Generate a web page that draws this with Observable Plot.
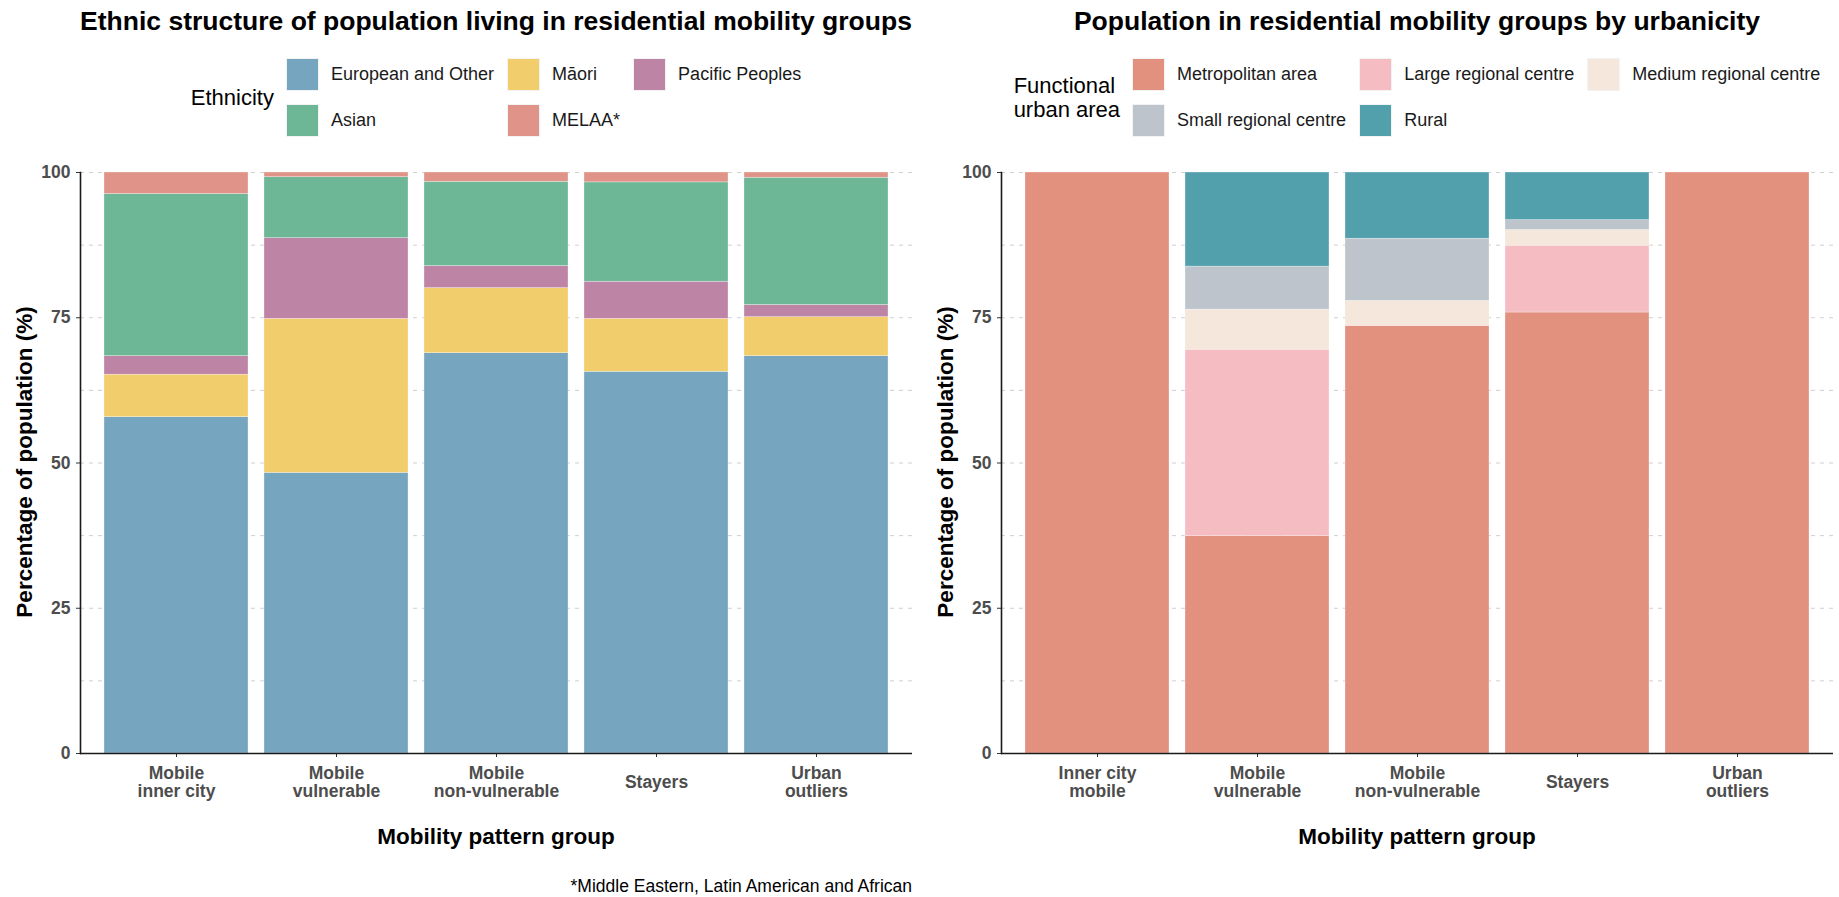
<!DOCTYPE html>
<html>
<head>
<meta charset="utf-8">
<script src="https://cdn.jsdelivr.net/npm/d3@7"></script>
<script src="https://cdn.jsdelivr.net/npm/@observablehq/plot@0.6"></script>
<style>
  html, body { margin: 0; padding: 0; background: #fff; }
  body { width: 1839px; height: 897px; position: relative; overflow: hidden; font-family: "Liberation Sans", Arial, sans-serif; color: #000; }
  .abs { position: absolute; }
  .title { font-weight: bold; font-size: 26.5px; line-height: 30px; text-align: center; white-space: nowrap; }
  .axtitle { font-weight: bold; font-size: 22.5px; line-height: 26px; text-align: center; white-space: nowrap; }
  .ytitle { font-weight: bold; font-size: 22.5px; line-height: 26px; white-space: nowrap; transform: translate(-50%, -50%) rotate(-90deg); }
  .caption { font-size: 17.5px; line-height: 20px; text-align: right; white-space: nowrap; }
  .legwrap { display: flex; justify-content: center; }
  .legend { display: flex; align-items: center; }
  .legtitle { font-size: 22px; line-height: 24px; margin-right: 12px; white-space: nowrap; }
  .leggrid { display: grid; grid-auto-flow: column; grid-template-rows: 33px 33px; row-gap: 13px; column-gap: 13px; align-items: center; }
  .item { display: flex; align-items: center; font-size: 18px; white-space: nowrap; color: #1a1a1a; }
  .key { width: 31px; height: 31px; border: 1px solid #f3f3f3; margin-right: 12px; }
  svg { overflow: visible; }
</style>
</head>
<body>
<script>
// ---------- data ----------
const ethGroups = ["Mobile\ninner city", "Mobile\nvulnerable", "Mobile\nnon-vulnerable", "Stayers", "Urban\noutliers"];
const ethnicities = ["European and Other", "Māori", "Pacific Peoples", "Asian", "MELAA*"];
const ethColors = ["#76A5BF", "#F2CD6B", "#BE84A6", "#6DB696", "#E09388"];
const european = [57.9, 48.3, 68.9, 65.7, 68.4];
const maori    = [7.3, 26.5, 11.2, 9.1, 6.7];
const pacific  = [3.2, 13.9, 3.8, 6.4, 2.1];
const asian    = [27.9, 10.5, 14.5, 17.1, 21.9];
const melaa    = [3.7, 0.8, 1.6, 1.7, 0.9];
// legend order (column-major, 2 rows)
const ethLegendOrder = ["European and Other", "Asian", "Māori", "MELAA*", "Pacific Peoples"];

const urbGroups = ["Inner city\nmobile", "Mobile\nvulnerable", "Mobile\nnon-vulnerable", "Stayers", "Urban\noutliers"];
const urbanAreas = ["Metropolitan area", "Large regional centre", "Medium regional centre", "Small regional centre", "Rural"];
const urbColors = ["#E3917F", "#F5BCC2", "#F5E7DB", "#BDC4CB", "#53A0AD"];
const metro  = [100, 37.4, 73.6, 75.9, 100];
const large  = [0, 32.1, 0, 11.5, 0];
const medium = [0, 6.9, 4.3, 2.7, 0];
const small  = [0, 7.4, 10.7, 1.7, 0];
const rural  = [0, 16.2, 11.4, 8.2, 0];
const urbLegendOrder = ["Metropolitan area", "Small regional centre", "Large regional centre", "Rural", "Medium regional centre"];

const yTicks = [0, 25, 50, 75, 100];
const yGrid = [0, 12.5, 25, 37.5, 50, 62.5, 75, 87.5, 100];

// ---------- build tables ----------
function rowsOf(groups, cats, series) {
  const out = [];
  cats.forEach((c, i) => groups.forEach((g, j) => { if (series[i][j] > 0) out.push({group: g, cat: c, value: series[i][j]}); }));
  return out;
}
const ethRows = rowsOf(ethGroups, ethnicities, [european, maori, pacific, asian, melaa]);
const urbRows = rowsOf(urbGroups, urbanAreas, [metro, large, medium, small, rural]);

function panel(rows, groups, cats, colors, width, mLeft, mRight) {
  return Plot.plot({
    width, height: 897,
    marginLeft: mLeft, marginRight: mRight, marginTop: 172, marginBottom: 144,
    style: {fontFamily: "Liberation Sans, Arial, sans-serif", background: "transparent", overflow: "visible"},
    x: {domain: groups, paddingInner: 0.1, paddingOuter: 0.15, label: null},
    y: {domain: [0, 100], label: null},
    color: {domain: cats, range: colors},
    marks: [
      Plot.gridY(yGrid, {stroke: "#cfcfcf", strokeOpacity: 1, strokeWidth: 1, strokeDasharray: "4,5"}),
      Plot.barY(rows, {x: "group", y: "value", fill: "cat", order: cats, stroke: "white", strokeWidth: 0.6, strokeOpacity: 0.5, inset: 0}),
      Plot.axisY({ticks: yTicks, tickSize: 4, tickPadding: 6, fontSize: 17.5, fontWeight: "bold", fill: "#4D4D4D", stroke: "#333", label: null}),
      Plot.axisX({tickSize: 4, tickPadding: 24.5, fontSize: 17.5, fontWeight: "bold", fill: "#4D4D4D", stroke: "#333", lineAnchor: "middle", lineHeight: 1.02, label: null}),
      Plot.frame({anchor: "left", stroke: "#1a1a1a", strokeWidth: 1.6}),
      Plot.ruleY([0], {stroke: "#1a1a1a", strokeWidth: 1.6})
    ]
  });
}

function place(el, left, top) {
  el.style.position = "absolute";
  el.style.left = left + "px";
  el.style.top = top + "px";
  document.body.appendChild(el);
  return el;
}

place(panel(ethRows, ethGroups, ethnicities, ethColors, 920, 80, 8), 0, 0);
place(panel(urbRows, urbGroups, urbanAreas, urbColors, 919, 81, 6), 920, 0);

function div(cls, html, css) {
  const d = document.createElement("div");
  d.className = "abs " + cls;
  d.innerHTML = html;
  Object.assign(d.style, css);
  document.body.appendChild(d);
  return d;
}

// titles
div("title", "Ethnic structure of population living in residential mobility groups", {left: "80px", width: "832px", top: "6px"});
div("title", "Population in residential mobility groups by urbanicity", {left: "1001px", width: "832px", top: "6px"});

// axis titles
div("axtitle", "Mobility pattern group", {left: "80px", width: "832px", top: "824px"});
div("axtitle", "Mobility pattern group", {left: "1001px", width: "832px", top: "824px"});
div("ytitle", "Percentage of population (%)", {left: "25px", top: "462px"});
div("ytitle", "Percentage of population (%)", {left: "946px", top: "462px"});

// caption
div("caption", "*Middle Eastern, Latin American and African", {right: (1839 - 912) + "px", top: "876px"});

// legends
function legend(left, width, titleHtml, order, cats, colors) {
  const wrap = div("legwrap", "", {left: left + "px", width: width + "px", top: "58px"});
  const lg = document.createElement("div");
  lg.className = "legend";
  const t = document.createElement("div");
  t.className = "legtitle";
  t.innerHTML = titleHtml;
  lg.appendChild(t);
  const grid = document.createElement("div");
  grid.className = "leggrid";
  order.forEach(name => {
    const it = document.createElement("div");
    it.className = "item";
    const k = document.createElement("div");
    k.className = "key";
    k.style.background = colors[cats.indexOf(name)];
    it.appendChild(k);
    const s = document.createElement("span");
    s.textContent = name;
    it.appendChild(s);
    grid.appendChild(it);
  });
  lg.appendChild(grid);
  wrap.appendChild(lg);
}
legend(80, 832, "Ethnicity", ethLegendOrder, ethnicities, ethColors);
legend(1001, 832, "Functional<br>urban area", urbLegendOrder, urbanAreas, urbColors);
</script>
</body>
</html>
